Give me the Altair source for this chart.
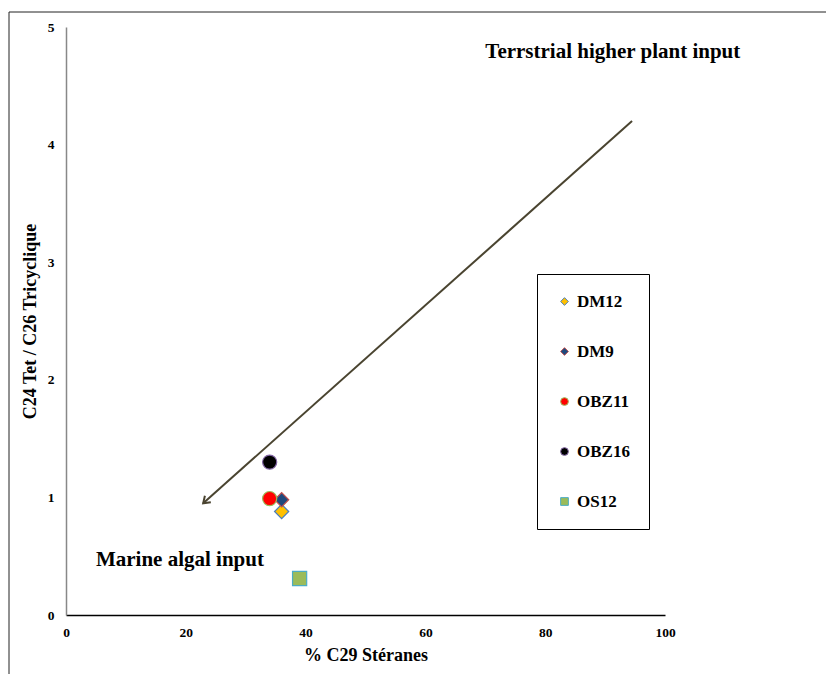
import altair as alt
import pandas as pd

samples = ["DM12", "DM9", "OBZ11", "OBZ16", "OS12"]
steranes = [36.0, 36.0, 34.0, 34.0, 39.0]
ratio = [0.88, 0.98, 0.99, 1.30, 0.31]
shapes = ["diamond", "diamond", "circle", "circle", "square"]
fills = ["#FFC000", "#1F497D", "#FF0000", "#000000", "#9BBB59"]
strokes = ["#4A7EBB", "#C0504D", "#9BBB59", "#8064A2", "#4BACC6"]

arrow_x = [94.5, 22.9]
arrow_y = [4.2, 0.95]

notes = ["Terrstrial higher plant input", "Marine algal input"]
note_x = [70.0, 5.0]
note_y = [4.79, 0.47]

FONT = "Liberation Serif"

df = pd.DataFrame({"sample": samples, "x": steranes, "y": ratio})
arrow_df = pd.DataFrame({"x": arrow_x, "y": arrow_y, "o": [0, 1]})
head_df = pd.DataFrame({"x": [arrow_x[1]], "y": [arrow_y[1]]})
note_df = pd.DataFrame({"t": notes, "x": note_x, "y": note_y})

xs = alt.Scale(domain=[0, 100])
ys = alt.Scale(domain=[0, 5])

xenc = alt.X("x:Q", scale=xs, title="% C29 Stéranes",
             axis=alt.Axis(values=[0, 20, 40, 60, 80, 100], ticks=False, grid=False, format="d",
                           labelFlush=False, labelOverlap=False,
                           domainColor="#000000", domainWidth=1.5, labelPadding=10,
                           titlePadding=8))
yenc = alt.Y("y:Q", scale=ys, title="C24 Tet / C26 Tricyclique",
             axis=alt.Axis(values=[0, 1, 2, 3, 4, 5], ticks=False, grid=False, format="d",
                           labelFlush=False, labelOverlap=False,
                           domainColor="#888888", domainWidth=1.5, labelPadding=12,
                           titlePadding=8))

points = alt.Chart(df).mark_point(filled=True, opacity=1, strokeWidth=1.2, size=200).encode(
    x=xenc, y=yenc,
    shape=alt.Shape("sample:N", scale=alt.Scale(domain=samples, range=shapes),
                    legend=alt.Legend(title=None, orient="none", legendX=471, legendY=247,
                                      padding=19, rowPadding=32, symbolSize=60,
                                      labelFont=FONT, labelFontSize=17, labelFontWeight="bold",
                                      labelColor="#000000", strokeColor="#000000",
                                      symbolStrokeWidth=1, labelOffset=4)),
    fill=alt.Fill("sample:N", scale=alt.Scale(domain=samples, range=fills), legend=None),
    stroke=alt.Stroke("sample:N", scale=alt.Scale(domain=samples, range=strokes), legend=None),
)

arrow = alt.Chart(arrow_df).mark_line(color="#4A4430", strokeWidth=2).encode(
    x=alt.X("x:Q", scale=xs), y=alt.Y("y:Q", scale=ys), order="o:Q")

head = alt.Chart(head_df).mark_point(
    shape="M-0.7,-1L0,0L0.7,-1", filled=False, stroke="#4A4430", strokeWidth=2,
    size=160, angle=48, opacity=1).encode(
    x=alt.X("x:Q", scale=xs), y=alt.Y("y:Q", scale=ys))

texts = alt.Chart(note_df).mark_text(align="left", baseline="middle", font=FONT,
                                     fontSize=21, fontWeight="bold", color="#000000").encode(
    x=alt.X("x:Q", scale=xs), y=alt.Y("y:Q", scale=ys), text="t:N")

frame_top = alt.Chart(head_df).mark_rule(color="#222222", strokeWidth=1).encode(
    x=alt.value(-57), x2=alt.value(770), y=alt.value(-15))
frame_left = alt.Chart(head_df).mark_rule(color="#222222", strokeWidth=1).encode(
    x=alt.value(-57), y=alt.value(-15), y2=alt.value(660))

chart = alt.layer(frame_top, frame_left, arrow, head, texts, points).properties(
    width=599, height=588,
    autosize=alt.AutoSizeParams(type="none"),
    padding={"left": 66, "top": 27, "right": 161, "bottom": 59},
).configure_view(stroke=None).configure_axis(
    labelFont=FONT, labelFontSize=13.5, labelFontWeight="bold", labelColor="#000000",
    titleFont=FONT, titleFontSize=18, titleFontWeight="bold", titleColor="#000000",
)

chart.save("out.html", embed_options={"renderer": "svg", "actions": False})
